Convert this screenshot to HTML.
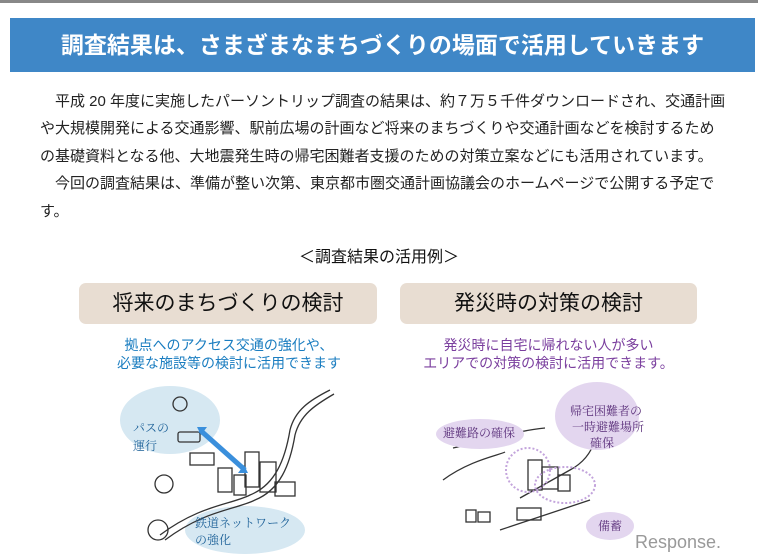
<!DOCTYPE html>
<html><head><meta charset="utf-8"><style>
body{margin:0;width:758px;height:560px;background:#fff;position:relative;overflow:hidden;font-family:"Liberation Sans","Noto Sans CJK JP",sans-serif;}
.topline{position:absolute;left:0;top:0;width:758px;height:3px;background:#888;}
.banner{position:absolute;left:10px;top:18px;width:745px;height:54px;background:#3f87c7;color:#fff;font-size:23px;font-weight:bold;text-align:center;line-height:54px;}
.p{position:absolute;left:40px;font-size:15px;color:#222;white-space:nowrap;}
.c{position:absolute;text-align:center;white-space:nowrap;}
.box{position:absolute;top:283px;height:41px;background:#e8ddd2;border-radius:7px;font-size:21px;line-height:41px;text-align:center;color:#111;}
</style></head><body>
<div class="topline"></div>
<div class="banner">調査結果は、さまざまなまちづくりの場面で活用していきます</div>
<div class="p" style="top:90px">　平成 20 年度に実施したパーソントリップ調査の結果は、約７万５千件ダウンロードされ、交通計画</div>
<div class="p" style="top:117px">や大規模開発による交通影響、駅前広場の計画など将来のまちづくりや交通計画などを検討するため</div>
<div class="p" style="top:145px">の基礎資料となる他、大地震発生時の帰宅困難者支援のための対策立案などにも活用されています。</div>
<div class="p" style="top:172px">　今回の調査結果は、準備が整い次第、東京都市圏交通計画協議会のホームページで公開する予定で</div>
<div class="p" style="top:200px">す。</div>
<div class="c" style="left:0;width:758px;top:243px;font-size:16px;color:#111">＜調査結果の活用例＞</div>
<div class="box" style="left:79px;width:298px">将来のまちづくりの検討</div>
<div class="box" style="left:400px;width:297px">発災時の対策の検討</div>
<div class="c" style="left:80px;width:298px;top:336px;font-size:14px;line-height:18px;color:#1a7dc0">拠点へのアクセス交通の強化や、<br>必要な施設等の検討に活用できます</div>
<div class="c" style="left:400px;width:297px;top:336px;font-size:14px;line-height:18px;color:#7a3e9e">発災時に自宅に帰れない人が多い<br>エリアでの対策の検討に活用できます。</div>
<svg style="position:absolute;left:0;top:0" width="758" height="560">
<g fill="#d6e8f2"><ellipse cx="170" cy="420" rx="50" ry="34"/><ellipse cx="245" cy="530" rx="60" ry="24"/></g>
<g fill="none" stroke="#333" stroke-width="1.3">
<path d="M160 535 C200 505 230 505 250 495 C275 485 285 460 290 430 C295 410 310 400 330 390"/>
<path d="M165 540 C205 510 235 510 255 500 C280 490 290 465 295 435 C300 415 315 405 334 394"/>
<rect x="245" y="452" width="14" height="35"/><rect x="260" y="462" width="16" height="30"/><rect x="275" y="482" width="20" height="14"/>
<rect x="218" y="468" width="14" height="24"/><rect x="234" y="475" width="12" height="20"/>
<rect x="190" y="453" width="24" height="12"/><rect x="178" y="432" width="22" height="10" rx="2"/>
<circle cx="164" cy="484" r="9"/><circle cx="180" cy="404" r="7"/><circle cx="158" cy="530" r="10"/>
<path d="M443 480 C470 460 500 455 505 452"/><path d="M453 448 C490 440 520 430 545 428"/>
<path d="M520 498 L570 470 C585 462 592 450 595 440"/>
<rect x="528" y="460" width="14" height="30"/><rect x="542" y="467" width="16" height="22"/><rect x="558" y="475" width="12" height="16"/>
<rect x="466" y="510" width="10" height="12"/><rect x="478" y="512" width="12" height="10"/>
<rect x="517" y="508" width="24" height="12"/>
<path d="M500 530 L590 500"/>
</g>
<path d="M200 430 L245 470" stroke="#3a8fdc" stroke-width="5"/>
<path d="M197 427 l10 0 l-6 8z M248 473 l-10 0 l6 -8z" fill="#3a8fdc"/>
<g fill="#e3d6ef"><ellipse cx="480" cy="434" rx="44" ry="15"/><ellipse cx="597" cy="416" rx="42" ry="34"/><ellipse cx="610" cy="526" rx="24" ry="14"/></g>
<g fill="none" stroke="#c3a4dc" stroke-width="2" stroke-dasharray="2 2"><circle cx="528" cy="470" r="22"/><ellipse cx="565" cy="485" rx="30" ry="18"/></g>
<g font-size="12" font-family="Liberation Serif,Noto Serif CJK SC,serif">
<text x="133" y="432" fill="#1a5f97">パスの</text><text x="133" y="450" fill="#1a5f97">運行</text>
<text x="195" y="527" fill="#1a5f97">鉄道ネットワーク</text><text x="195" y="544" fill="#1a5f97">の強化</text>
<text x="443" y="437" fill="#5a2f7a">避難路の確保</text>
<text x="570" y="415" fill="#5a2f7a">帰宅困難者の</text><text x="572" y="431" fill="#5a2f7a">一時避難場所</text><text x="590" y="447" fill="#5a2f7a">確保</text>
<text x="598" y="530" fill="#5a2f7a">備蓄</text>
</g>
<text x="635" y="548" font-size="18" fill="#999" font-family="Liberation Sans,sans-serif">Response.</text>
</svg>
</body></html>
